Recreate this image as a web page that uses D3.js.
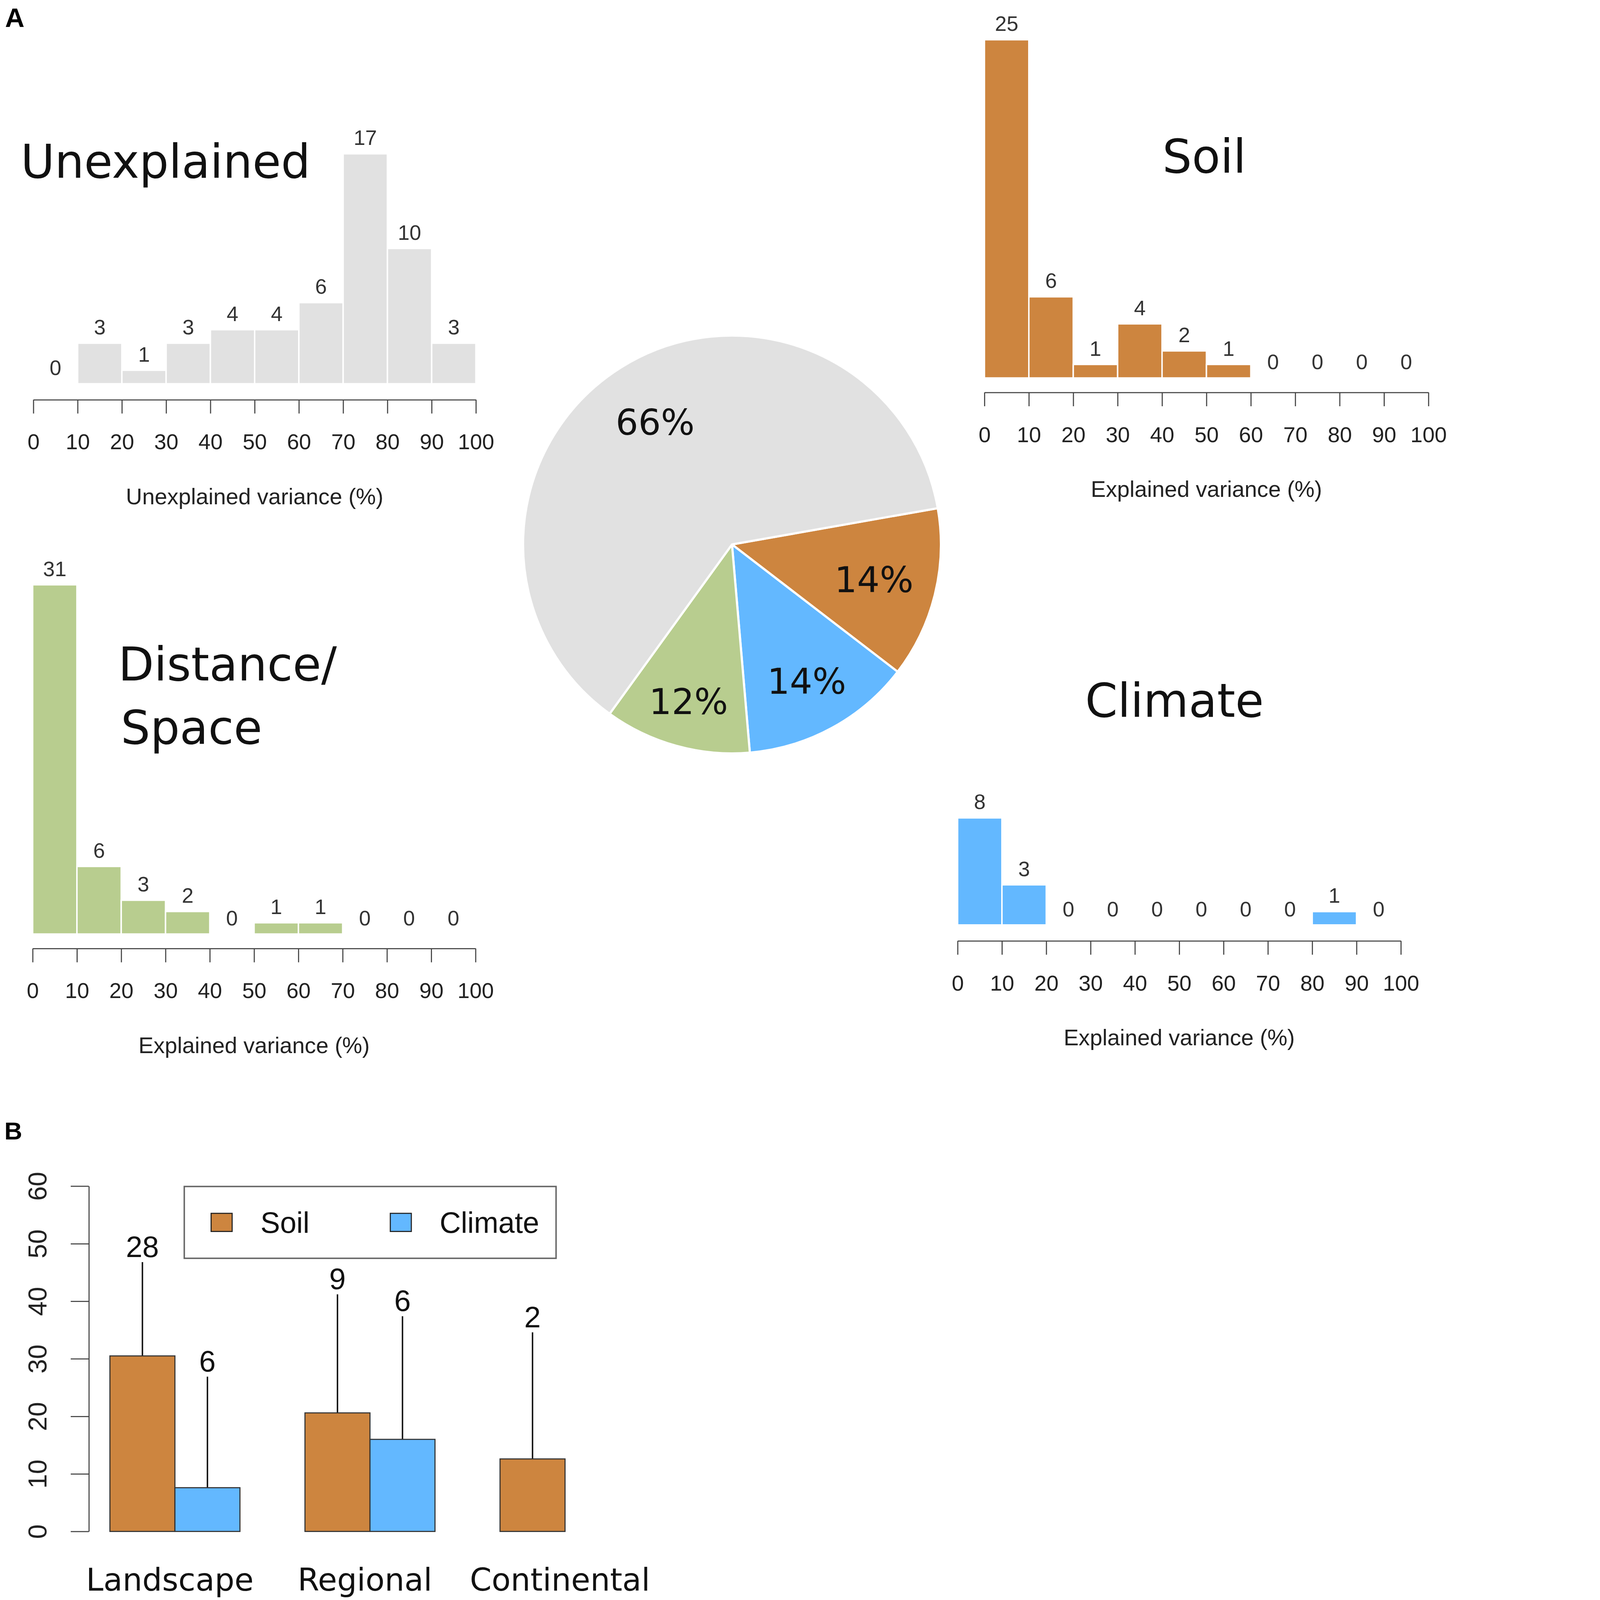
<!DOCTYPE html>
<html><head><meta charset="utf-8">
<script src="https://cdn.jsdelivr.net/npm/d3@7"></script>
<style>html,body{margin:0;padding:0;background:#fff;overflow:hidden}svg{display:block}</style>
</head><body><svg id="chart"></svg>
<script>
// ---------- data ----------
const binEdges = [0,10,20,30,40,50,60,70,80,90,100];
const unexplainedCounts = [0,3,1,3,4,4,6,17,10,3];
const soilCounts        = [25,6,1,4,2,1,0,0,0,0];
const distanceCounts    = [31,6,3,2,0,1,1,0,0,0];
const climateCounts     = [8,3,0,0,0,0,0,0,1,0];

const pieNames  = ["Soil","Climate","Distance/Space","Unexplained"];
const pieValues = [14,14,12,66];
const pieText   = ["14%","14%","12%","66%"];

const scaleCategories = ["Landscape","Regional","Continental"];
const seriesNames  = ["Soil","Climate"];
const soilMeans    = [30.5,20.6,12.6];
const climateMeans = [7.6,16.0,0];
const soilUpper    = [46.8,41.2,34.6];
const climateUpper = [26.9,37.4,null];
const soilN        = [28,9,2];
const climateN     = [6,6,null];
const yTicksB      = [0,10,20,30,40,50,60];

// ---------- styles ----------
const COL = {Soil:"#cd853f", Climate:"#63b8ff", "Distance/Space":"#b8cd8f", Unexplained:"#e1e1e1"};
const LABEL_R = {Soil:403, Climate:429, "Distance/Space":449, Unexplained:399};
const W = 4122, H = 4411;
const svg = d3.select("#chart")
  .attr("viewBox", `0 0 ${W} ${H}`)
  .attr("preserveAspectRatio","xMinYMin meet")
  .style("width","100vw").style("height","100vh")
  .style("font-family","'Liberation Sans', Arial, sans-serif");
svg.append("rect").attr("width",W).attr("height",H).attr("fill","#fff");

// panel letters
svg.append("text").attr("x",14).attr("y",74).attr("font-size",74).attr("font-weight","bold").text("A");
svg.append("text").attr("x",12).attr("y",3141).attr("font-size",68).attr("font-weight","bold").text("B");

// ---------- histograms ----------
function histogram(cfg){
  const g = svg.append("g");
  const x = d3.scaleLinear().domain([0,100]).range([cfg.x0, cfg.x1]);
  const y = d3.scaleLinear().domain([0,1]).range([cfg.base, cfg.base - cfg.unit]);
  const bins = cfg.counts.map((c,i)=>({c, a:binEdges[i], b:binEdges[i+1]}));
  g.selectAll("rect.bar").data(bins.filter(d=>d.c>0)).join("rect")
    .attr("x", d=>x(d.a)).attr("width", d=>x(d.b)-x(d.a))
    .attr("y", d=>y(d.c)).attr("height", d=>y(0)-y(d.c))
    .attr("fill", cfg.color).attr("stroke","#fff").attr("stroke-width",4);
  g.selectAll("text.cnt").data(bins).join("text")
    .attr("x", d=>(x(d.a)+x(d.b))/2).attr("y", d=>y(d.c)-24)
    .attr("text-anchor","middle").attr("font-size",58).attr("fill","#333")
    .text(d=>d.c);
  const ax = g.append("g").attr("transform",`translate(0,${cfg.axisY})`)
    .call(d3.axisBottom(x).tickValues(binEdges).tickSize(38).tickSizeOuter(0).tickPadding(56).tickFormat(d3.format("d")));
  ax.select(".domain").attr("stroke","#444").attr("stroke-width",3);
  ax.selectAll(".tick line").attr("stroke","#444").attr("stroke-width",3);
  ax.selectAll(".tick text").attr("font-size",60).attr("fill","#222")
    .attr("font-family","'Liberation Sans', Arial, sans-serif");
  g.append("text").attr("x",(cfg.x0+cfg.x1)/2).attr("y",cfg.axisY+288)
    .attr("text-anchor","middle").attr("font-size",62).attr("fill","#222").text(cfg.axisTitle);
  const t = g.append("text").attr("font-family","'DejaVu Sans', Verdana, sans-serif")
    .attr("font-size",128).attr("fill","#111").attr("text-anchor",cfg.titleAnchor);
  cfg.title.forEach((line,i)=>{
    t.append("tspan").attr("x",cfg.titleX[i]).attr("y",cfg.titleY[i]).text(line);
  });
}

histogram({counts:unexplainedCounts, color:COL.Unexplained, x0:92, x1:1312, base:1058, unit:37.3,
  axisY:1102, axisTitle:"Unexplained variance (%)", title:["Unexplained"], titleX:[57], titleY:[490], titleAnchor:"start"});
histogram({counts:soilCounts, color:COL.Soil, x0:2714, x1:3938, base:1042, unit:37.3,
  axisY:1082, axisTitle:"Explained variance (%)", title:["Soil"], titleX:[3320], titleY:[476], titleAnchor:"middle"});
histogram({counts:distanceCounts, color:COL["Distance/Space"], x0:90, x1:1311, base:2575, unit:31.06,
  axisY:2615, axisTitle:"Explained variance (%)", title:["Distance/","Space"], titleX:[326,333], titleY:[1876,2050], titleAnchor:"start"});
histogram({counts:climateCounts, color:COL.Climate, x0:2640, x1:3862, base:2550, unit:36.9,
  axisY:2594, axisTitle:"Explained variance (%)", title:["Climate"], titleX:[3238], titleY:[1976], titleAnchor:"middle"});

// ---------- pie ----------
const pieData = pieNames.map((n,i)=>({name:n, value:pieValues[i], label:pieText[i]}));
const start = 80*Math.PI/180;
const pie = d3.pie().sort(null).value(d=>d.value).startAngle(start).endAngle(start+2*Math.PI);
const R = 576;
const arc = d3.arc().innerRadius(0).outerRadius(R);
const pg = svg.append("g").attr("transform","translate(2018,1501)");
const arcs = pie(pieData);
pg.selectAll("path").data(arcs).join("path").attr("d",arc)
  .attr("fill",d=>COL[d.data.name]).attr("stroke","#fff").attr("stroke-width",6).attr("stroke-linejoin","round");
pg.selectAll("text").data(arcs).join("text")
  .attr("transform",d=>{
    const r = LABEL_R[d.data.name];
    return `translate(${d3.arc().innerRadius(r).outerRadius(r).centroid(d)})`;
  })
  .attr("text-anchor","middle").attr("dy","0.36em")
  .attr("font-family","'DejaVu Sans', Verdana, sans-serif").attr("font-size",98).attr("fill","#111")
  .text(d=>d.data.label);

// ---------- panel B ----------
const gb = svg.append("g");
const yB = d3.scaleLinear().domain([0,60]).range([4222,3270]);
const xG = d3.scaleBand().domain(scaleCategories).range([303,1737]).paddingInner(1/3).paddingOuter(0);
const xS = d3.scaleBand().domain(seriesNames).range([0,xG.bandwidth()]);
const barsB = [];
scaleCategories.forEach((c,i)=>{
  barsB.push({cat:c, s:"Soil", v:soilMeans[i], up:soilUpper[i], n:soilN[i]});
  barsB.push({cat:c, s:"Climate", v:climateMeans[i], up:climateUpper[i], n:climateN[i]});
});
gb.selectAll("line.err").data(barsB.filter(d=>d.up!=null)).join("line")
  .attr("x1",d=>xG(d.cat)+xS(d.s)+xS.bandwidth()/2).attr("x2",d=>xG(d.cat)+xS(d.s)+xS.bandwidth()/2)
  .attr("y1",d=>yB(d.v)).attr("y2",d=>yB(d.up)).attr("stroke","#111").attr("stroke-width",4);
gb.selectAll("rect.b").data(barsB).join("rect")
  .attr("x",d=>xG(d.cat)+xS(d.s)).attr("width",xS.bandwidth())
  .attr("y",d=>yB(d.v)).attr("height",d=>yB(0)-yB(d.v))
  .attr("fill",d=>COL[d.s]).attr("stroke","#333").attr("stroke-width",3);
gb.selectAll("text.n").data(barsB.filter(d=>d.n!=null)).join("text")
  .attr("x",d=>xG(d.cat)+xS(d.s)+xS.bandwidth()/2).attr("y",d=>yB(d.up)-14)
  .attr("text-anchor","middle").attr("font-size",82).attr("fill","#111").text(d=>d.n);
const axB = gb.append("g").attr("transform","translate(245,0)")
  .call(d3.axisLeft(yB).tickValues(yTicksB).tickSize(50).tickSizeOuter(0));
axB.select(".domain").attr("stroke","#444").attr("stroke-width",3);
axB.selectAll(".tick line").attr("stroke","#444").attr("stroke-width",3);
axB.selectAll(".tick text").attr("transform","rotate(-90)").attr("x",0).attr("y",-117).attr("dy",null)
  .attr("text-anchor","middle").attr("font-size",72).attr("fill","#222")
  .attr("font-family","'Liberation Sans', Arial, sans-serif");
gb.selectAll("text.cat").data(scaleCategories).join("text")
  .attr("x",d=>xG(d)+xG.bandwidth()/2-14).attr("y",4385)
  .attr("text-anchor","middle").attr("font-family","'DejaVu Sans', Verdana, sans-serif")
  .attr("font-size",86).attr("fill","#111").text(d=>d);
// legend
const lg = gb.append("g");
lg.append("rect").attr("x",508).attr("y",3271).attr("width",1025).attr("height",198)
  .attr("fill","#fff").attr("stroke","#666").attr("stroke-width",4);
const legX = {Soil:582, Climate:1076};
lg.selectAll("rect.k").data(seriesNames).join("rect")
  .attr("x",d=>legX[d]).attr("y",3345).attr("width",58).attr("height",50)
  .attr("fill",d=>COL[d]).attr("stroke","#222").attr("stroke-width",3);
lg.selectAll("text.k").data(seriesNames).join("text")
  .attr("x",d=>legX[d]+136).attr("y",3399).attr("font-size",81).attr("fill","#111").text(d=>d);
</script></body></html>
